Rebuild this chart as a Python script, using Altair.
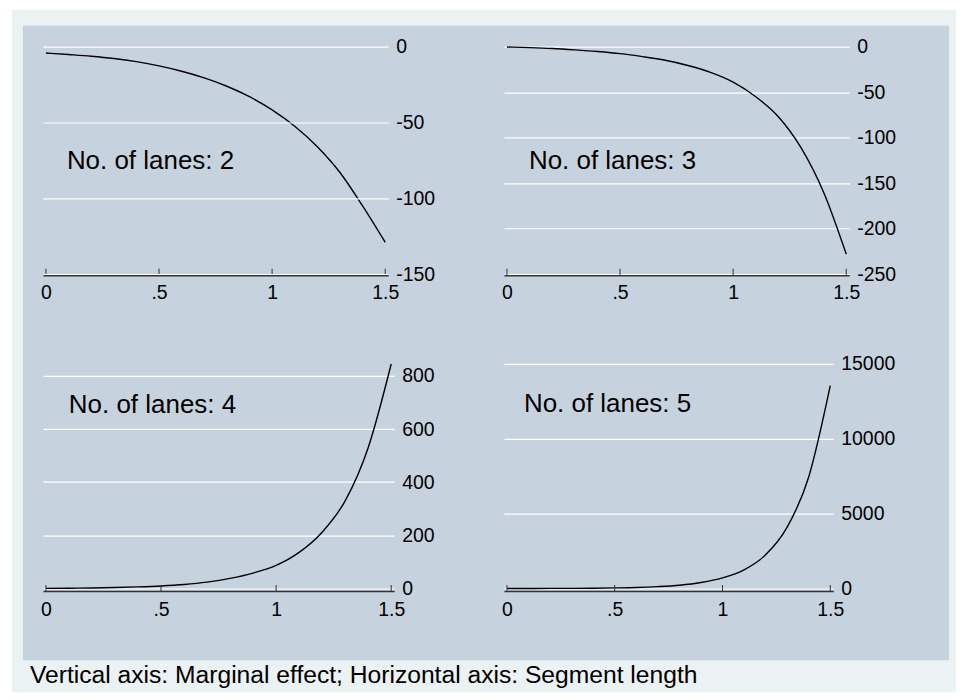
import altair as alt
import pandas as pd

# ---- data ----
seg = [0.0, 0.1, 0.2, 0.3, 0.4, 0.5, 0.6, 0.7, 0.8, 0.9, 1.0, 1.1, 1.2, 1.3, 1.4, 1.5]
me_lanes2 = [-4.2, -5.2, -6.3, -7.8, -9.9, -12.7, -16.2, -20.6, -26.1, -33.0,
             -41.7, -52.5, -66.0, -83.0, -105.0, -129.0]
me_lanes3 = [-0.4, -1.1, -2.1, -3.6, -5.4, -7.7, -11.0, -15.0, -20.7, -28.3,
             -39.0, -55.0, -77.0, -111.0, -160.0, -228.0]
me_lanes4 = [0.5, 1, 2, 3.5, 6, 9.5, 15, 24, 38, 58, 87, 136, 212, 330, 530, 845]
me_lanes5 = [2, 4, 6, 11, 21, 40, 67, 125, 220, 400, 711, 1250, 2250, 4100, 7450, 13550]
lanes = [2, 3, 4, 5]
x_ticks = [0, 0.5, 1, 1.5]
y_ticks_2 = [0, -50, -100, -150]
y_ticks_3 = [0, -50, -100, -150, -200, -250]
y_ticks_4 = [0, 200, 400, 600, 800]
y_ticks_5 = [0, 5000, 10000, 15000]
y_domain_2 = [-150, 0]
y_domain_3 = [-250, 0]
y_domain_4 = [0, 845]
y_domain_5 = [0, 15000]
caption = "Vertical axis: Marginal effect; Horizontal axis: Segment length"

FONT = "Liberation Sans"
OUTER = "#eaf2f3"
INNER = "#c6d3df"
AXIS_COL = "#333333"


def panel(vals, lane, yticks, ydom, width, height, xoff, tick_up, lab_pad,
          label_xy, zi=0, extras=()):
    df = pd.DataFrame({"x": seg, "y": vals})
    tdf = pd.DataFrame({"x": x_ticks})
    xenc = alt.X(
        "x:Q",
        scale=alt.Scale(domain=[0, 1.5], padding=3, nice=False, zero=False),
        axis=alt.Axis(values=x_ticks, labelExpr="replace('' + datum.value, '0.', '.')",
                      title=None, grid=False, ticks=False, domain=True,
                      domainColor=AXIS_COL, domainWidth=1.5, offset=xoff,
                      labelPadding=lab_pad, labelFlush=False, labelFontSize=19.5,
                      labelColor="#000000", labelFont=FONT, zindex=zi),
    )
    yenc = alt.Y(
        "y:Q",
        scale=alt.Scale(domain=ydom, nice=False, zero=False),
        axis=alt.Axis(orient="right", values=yticks, labelExpr="'' + datum.value",
                      title=None, grid=True, gridColor="#ffffff", gridWidth=1.2,
                      ticks=False, domain=False, labelPadding=7.5, labelFontSize=19.5,
                      labelColor="#000000", labelFont=FONT, zindex=zi),
    )
    line = alt.Chart(df).mark_line(color="#000000", strokeWidth=1.4,
                                   interpolate="monotone").encode(x=xenc, y=yenc)
    ticks = alt.Chart(tdf).mark_rule(color=AXIS_COL, strokeWidth=1).encode(
        x=xenc, y=alt.value(height - tick_up), y2=alt.value(height + xoff))
    label = alt.Chart(pd.DataFrame({"t": [f"No. of lanes: {lane}"]})).mark_text(
        align="left", baseline="alphabetic", fontSize=26, font=FONT, color="#000000"
    ).encode(x=alt.value(label_xy[0]), y=alt.value(label_xy[1]), text="t:N")
    layers = list(extras) + [line, ticks, label]
    return alt.layer(*layers).properties(width=width, height=height)


one = pd.DataFrame({"k": [0]})
bg_outer = alt.Chart(one).mark_rect(color=OUTER, strokeWidth=0).encode(
    x=alt.value(-31), x2=alt.value(915), y=alt.value(-37), y2=alt.value(647))
bg_inner = alt.Chart(one).mark_rect(color=INNER, strokeWidth=0).encode(
    x=alt.value(-20), x2=alt.value(908), y=alt.value(-21), y2=alt.value(615))
cap = alt.Chart(pd.DataFrame({"t": [caption]})).mark_text(
    align="left", baseline="alphabetic", fontSize=24.7, font=FONT, color="#000000"
).encode(x=alt.value(-13), y=alt.value(320), text="t:N")

p1 = panel(me_lanes2, lanes[0], y_ticks_2, y_domain_2, 346, 228, 1, 5.5, 8,
           (24, 123), zi=1, extras=(bg_outer, bg_inner))
p2 = panel(me_lanes3, lanes[1], y_ticks_3, y_domain_3, 346, 228, 1, 5.5, 8,
           (25, 123))
p3 = panel(me_lanes4, lanes[2], y_ticks_4, y_domain_4, 352, 225, 2.5, 3.5, 9.5,
           (26, 49), extras=(cap,))
p4 = panel(me_lanes5, lanes[3], y_ticks_5, y_domain_5, 330, 225, 2.5, 3.5, 9.5,
           (20, 48))

chart = alt.concat(
    p1, p2, p3, p4, columns=2, spacing={"row": 90, "column": 110}, bounds="flush"
).properties(
    padding={"left": 3, "top": 0, "right": 0, "bottom": 0},
    background="#ffffff",
).configure_view(stroke="transparent")

chart.save("out.html", embed_options={"renderer": "svg", "actions": False})
